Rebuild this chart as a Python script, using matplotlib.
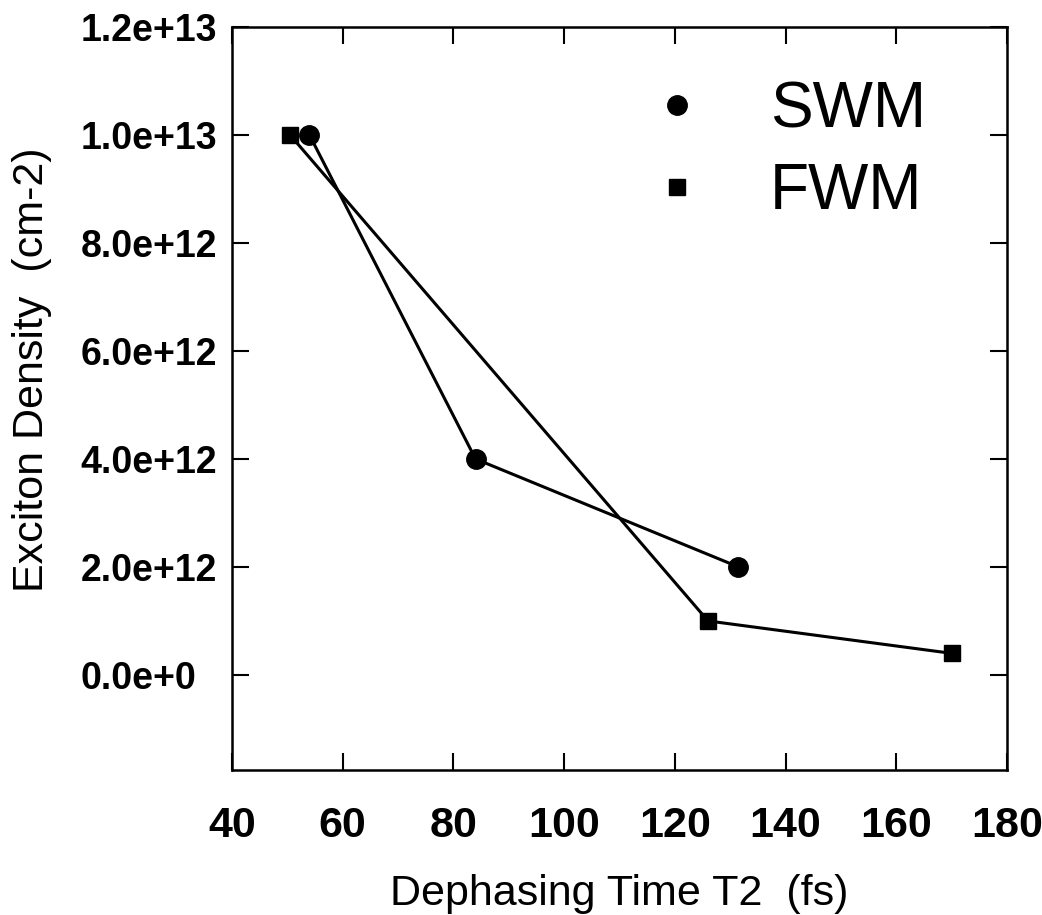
import matplotlib

matplotlib.use("Agg")

import matplotlib.pyplot as plt  # noqa: E402
from matplotlib.lines import Line2D  # noqa: E402

# Values
swm_t2 = [54, 84, 131.5]
swm_density = [1.0e13, 4.0e12, 2.0e12]
fwm_t2 = [50.5, 126, 170]
fwm_density = [1.0e13, 1.0e12, 4.0e11]

x_ticks = [40, 60, 80, 100, 120, 140, 160, 180]
y_ticks = [0, 2e12, 4e12, 6e12, 8e12, 1.0e13, 1.2e13]
y_tick_labels = ["0.0e+0", "2.0e+12", "4.0e+12", "6.0e+12",
                 "8.0e+12", "1.0e+13", "1.2e+13"]

plt.rcParams["font.family"] = ["Liberation Sans", "DejaVu Sans"]

fig = plt.figure(figsize=(10.42, 9.15), dpi=100)
ax = fig.add_axes([0.2226, 0.1585, 0.7438, 0.812])

ax.plot(swm_t2, swm_density, color="black", lw=2.2, marker="o",
        markersize=14, zorder=3)
ax.plot(fwm_t2, fwm_density, color="black", lw=2.2, marker="s",
        markersize=12, zorder=3)

ax.set_xlim(40, 180)
ax.set_ylim(-1.76e12, 1.2e13)
ax.set_xticks(x_ticks)
ax.set_yticks(y_ticks)
ax.set_yticklabels(y_tick_labels)
for lab in ax.get_xticklabels():
    lab.set_fontsize(31)
    lab.set_fontweight("bold")
for lab in ax.get_yticklabels():
    lab.set_fontsize(27)
    lab.set_fontweight("bold")
    lab.set_horizontalalignment("left")

ax.tick_params(direction="in", length=12, width=1.5, top=True, right=True)
ax.tick_params(axis="x", pad=26)
ax.tick_params(axis="y", pad=109)
for spine in ax.spines.values():
    spine.set_linewidth(1.8)

ax.set_xlabel("Dephasing Time T2  (fs)", fontsize=31, labelpad=20)
ax.set_ylabel("Exciton Density  (cm-2)", fontsize=31)
ax.yaxis.set_label_coords(-0.232, 0.538)

handles = [
    Line2D([], [], ls="none", marker="o", color="black", markersize=14),
    Line2D([], [], ls="none", marker="s", color="black", markersize=11),
]
ax.legend(handles, ["SWM", "FWM"], loc="upper right",
          bbox_to_anchor=(0.97, 1.006), frameon=False,
          prop={"size": 46}, borderpad=0.4,
          handletextpad=0.45, labelspacing=0.35)

fig.savefig("out.png", dpi=100, facecolor="white")
plt.close(fig)
